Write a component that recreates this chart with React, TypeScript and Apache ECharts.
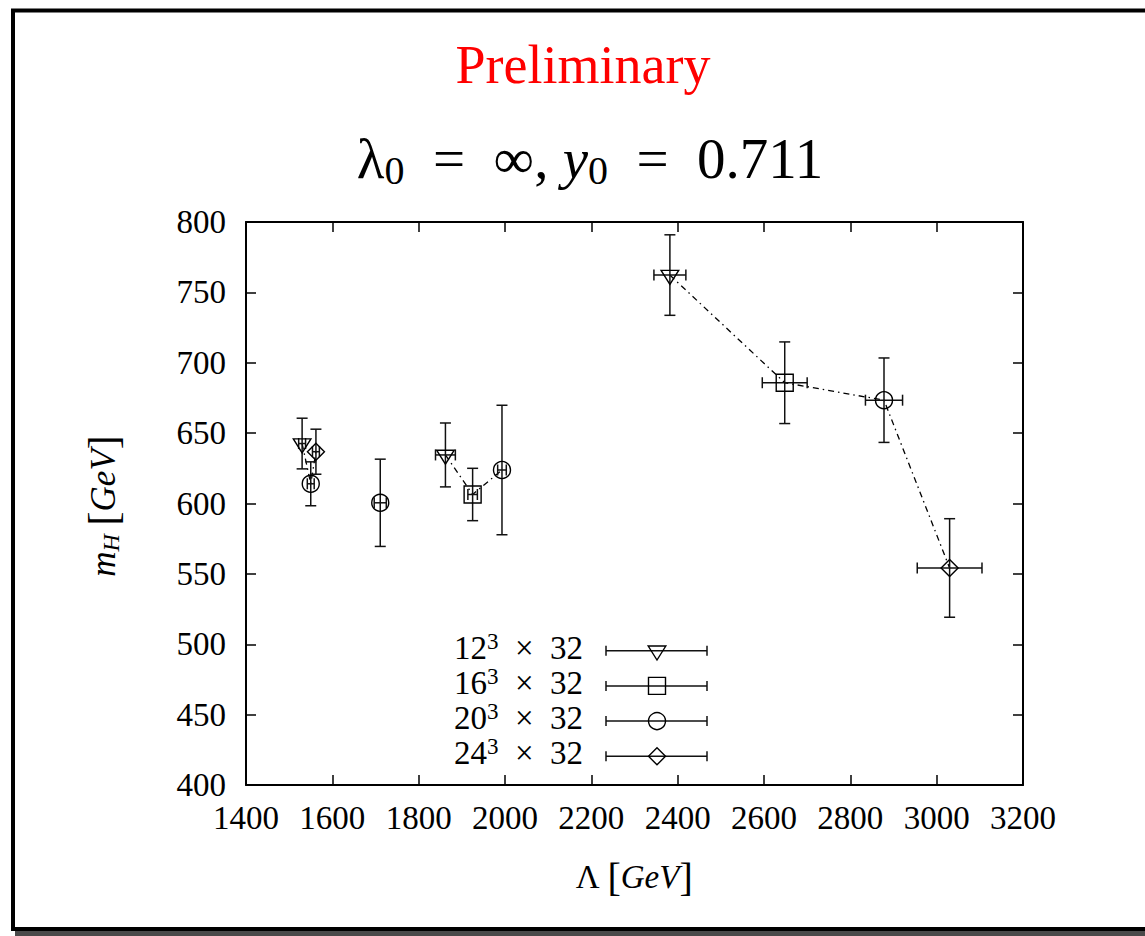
import React, { useEffect, useRef } from "react";
import * as echarts from "echarts";

// ---- axes ----
const X_MIN = 1400;
const X_MAX = 3200;
const X_STEP = 200;
const Y_MIN = 400;
const Y_MAX = 800;
const Y_STEP = 50;

// ---- series (lattice sizes) ----
const latticeBase = ["12", "16", "20", "24"];
const latticeTime = "32";
const markerShapes = ["triangleDown", "square", "circle", "diamond"];

const lambda12 = [1530, 1862, 2382];
const mH12 = [642.6, 634.5, 762.3];
const dLambda12 = [8, 23, 37];
const dmH12 = [18, 22.7, 28.6];

const lambda16 = [1925, 2648];
const mH16 = [606.4, 685.8];
const dLambda16 = [11, 52];
const dmH16 = [18.6, 29];

const lambda20 = [1550, 1711, 1993, 2878];
const mH20 = [614, 600.5, 623.8, 673.4];
const dLambda20 = [8, 14, 10, 43];
const dmH20 = [15.6, 31, 46, 30];

const lambda24 = [1562, 3030];
const mH24 = [636.8, 554.2];
const dLambda24 = [8, 75];
const dmH24 = [16, 35];

// connected groups: [series index, point index]
const groupA = [[0, 0], [2, 0], [3, 0]];
const groupB = [[0, 1], [1, 0], [2, 2]];
const groupC = [[0, 2], [1, 1], [2, 3], [3, 1]];

const FONT = "Liberation Serif, DejaVu Serif, serif";

const allSeries = [
  { lam: lambda12, m: mH12, dl: dLambda12, dm: dmH12 },
  { lam: lambda16, m: mH16, dl: dLambda16, dm: dmH16 },
  { lam: lambda20, m: mH20, dl: dLambda20, dm: dmH20 },
  { lam: lambda24, m: mH24, dl: dLambda24, dm: dmH24 },
];

const markerStyle = { stroke: "#000", fill: "none", lineWidth: 1.4 };
const barStyle = { stroke: "#111", lineWidth: 1.5 };

function marker(shape: string, cx: number, cy: number): any {
  if (shape === "triangleDown") {
    return {
      type: "polygon",
      shape: { points: [[cx - 8.8, cy - 4.7], [cx + 8.8, cy - 4.7], [cx, cy + 9.3]] },
      style: markerStyle,
    };
  }
  if (shape === "square") {
    return { type: "rect", shape: { x: cx - 8.5, y: cy - 8.5, width: 17, height: 17 }, style: markerStyle };
  }
  if (shape === "circle") {
    return { type: "circle", shape: { cx, cy, r: 8.5 }, style: markerStyle };
  }
  return {
    type: "polygon",
    shape: { points: [[cx, cy - 8.5], [cx + 8.5, cy], [cx, cy + 8.5], [cx - 8.5, cy]] },
    style: markerStyle,
  };
}

function seg(x1: number, y1: number, x2: number, y2: number): any {
  return { type: "line", shape: { x1, y1, x2, y2 }, style: barStyle };
}

function makeRender(shape: string) {
  return (_params: any, api: any) => {
    const x = api.value(0);
    const y = api.value(1);
    const dx = api.value(2);
    const dy = api.value(3);
    const c = api.coord([x, y]);
    const top = api.coord([x, y + dy]);
    const bot = api.coord([x, y - dy]);
    const l = api.coord([x - dx, y]);
    const r = api.coord([x + dx, y]);
    const cap = 5.5;
    return {
      type: "group",
      children: [
        seg(c[0], top[1], c[0], bot[1]),
        seg(c[0] - cap, top[1], c[0] + cap, top[1]),
        seg(c[0] - cap, bot[1], c[0] + cap, bot[1]),
        seg(l[0], c[1], r[0], c[1]),
        seg(l[0], c[1] - cap, l[0], c[1] + cap),
        seg(r[0], c[1] - cap, r[0], c[1] + cap),
        marker(shape, c[0], c[1]),
      ],
    };
  };
}

function groupData(g: number[][]) {
  return g.map(([s, i]) => [allSeries[s].lam[i], allSeries[s].m[i]]);
}

export default function App() {
  const ref = useRef<HTMLDivElement>(null);
  useEffect(() => {
    if (!ref.current) return;
    const chart = echarts.init(ref.current, undefined, { renderer: "svg" });

    const legendGraphics: any[] = [];
    latticeBase.forEach((b, i) => {
      const ly = 650.7 + i * 35.2;
      legendGraphics.push({
        type: "text",
        x: 583,
        y: ly - 3,
        style: {
          text: `{n|${b}}{p|3}{n|  ×  ${latticeTime}}`,
          align: "right",
          verticalAlign: "middle",
          fill: "#000",
          rich: {
            n: { fontFamily: FONT, fontSize: 33, lineHeight: 36, fill: "#000" },
            p: { fontFamily: FONT, fontSize: 23, lineHeight: 30, verticalAlign: "top", fill: "#000" },
          },
        },
      });
      legendGraphics.push(seg(606, ly, 707, ly));
      legendGraphics.push(seg(606, ly - 5, 606, ly + 5));
      legendGraphics.push(seg(707, ly - 5, 707, ly + 5));
      legendGraphics.push(marker(markerShapes[i], 657, ly));
    });

    const axisCommon = {
      type: "value",
      axisLine: { show: true, onZero: false, lineStyle: { color: "#000", width: 2 } },
      axisTick: { show: true, inside: true, length: 10, lineStyle: { color: "#000", width: 1.5 } },
      splitLine: { show: false },
    };

    const customSeries = allSeries.map((s, k) => ({
      type: "custom",
      name: `${latticeBase[k]}^3 x ${latticeTime}`,
      xAxisIndex: 0,
      yAxisIndex: 0,
      clip: false,
      z: 5,
      renderItem: makeRender(markerShapes[k]),
      data: s.lam.map((v, i) => [v, s.m[i], s.dl[i], s.dm[i]]),
    }));

    const lineSeries = [groupA, groupB, groupC].map((g) => ({
      type: "line",
      xAxisIndex: 0,
      yAxisIndex: 0,
      data: groupData(g),
      symbol: "none",
      silent: true,
      z: 2,
      lineStyle: { color: "#000", width: 1.3, type: [6, 4, 1.5, 4] },
    }));

    chart.setOption({
      animation: false,
      backgroundColor: "#fff",
      grid: { left: 246, top: 222, right: 122, bottom: 151, containLabel: false, outerBoundsMode: "none" },
      xAxis: [
        {
          ...axisCommon,
          position: "bottom",
          min: X_MIN,
          max: X_MAX,
          interval: X_STEP,
          axisLabel: {
            color: "#000",
            fontFamily: FONT,
            fontSize: 33,
            margin: 16,
            formatter: (v: number) => String(v),
          },
        },
        {
          ...axisCommon,
          position: "top",
          min: X_MIN,
          max: X_MAX,
          interval: X_STEP,
          axisLabel: { show: false },
        },
      ],
      yAxis: [
        {
          ...axisCommon,
          position: "left",
          min: Y_MIN,
          max: Y_MAX,
          interval: Y_STEP,
          axisLabel: {
            color: "#000",
            fontFamily: FONT,
            fontSize: 33,
            margin: 20,
            padding: [0, 0, 6, 0],
            formatter: (v: number) => String(v),
          },
        },
        {
          ...axisCommon,
          position: "right",
          min: Y_MIN,
          max: Y_MAX,
          interval: Y_STEP,
          axisLabel: { show: false },
        },
      ],
      series: [...lineSeries, ...customSeries],
      graphic: [
        {
          type: "rect",
          shape: { x: 13, y: 10.5, width: 1200, height: 918.5 },
          style: { fill: "none", stroke: "#000", lineWidth: 4 },
          silent: true,
        },
        {
          type: "rect",
          shape: { x: 15, y: 931, width: 1200, height: 5 },
          style: { fill: "#4a4a4a" },
          silent: true,
        },
        {
          type: "text",
          x: 583,
          y: 65,
          style: {
            text: "Preliminary",
            fontFamily: FONT,
            fontSize: 54,
            fill: "#ff0000",
            align: "center",
            verticalAlign: "middle",
          },
        },
        {
          type: "text",
          x: 590,
          y: 158,
          style: {
            text: "{n|λ}{s|0}{n|  =  ∞, }{i|y}{s|0}{n|  =  0.711}",
            align: "center",
            verticalAlign: "middle",
            rich: {
              n: { fontFamily: FONT, fontSize: 57, lineHeight: 64, fill: "#000" },
              i: { fontFamily: FONT, fontSize: 57, lineHeight: 64, fontStyle: "italic", fill: "#000" },
              s: { fontFamily: FONT, fontSize: 40, lineHeight: 41, verticalAlign: "bottom", fill: "#000" },
            },
          },
        },
        {
          type: "text",
          x: 634,
          y: 877,
          style: {
            text: "{n|Λ }{b|[}{i|GeV}{b|]}",
            align: "center",
            verticalAlign: "middle",
            rich: {
              n: { fontFamily: FONT, fontSize: 33, lineHeight: 40, fill: "#000" },
              b: { fontFamily: FONT, fontSize: 40, lineHeight: 40, fill: "#000" },
              i: { fontFamily: FONT, fontSize: 33, lineHeight: 40, fontStyle: "italic", fill: "#000" },
            },
          },
        },
        {
          type: "text",
          x: 103,
          y: 506,
          rotation: Math.PI / 2,
          style: {
            text: "{i|m}{s|H}{n| }{b|[}{i|GeV}{b|]}",
            align: "center",
            verticalAlign: "middle",
            rich: {
              n: { fontFamily: FONT, fontSize: 35, lineHeight: 40, fill: "#000" },
              b: { fontFamily: FONT, fontSize: 42, lineHeight: 40, fill: "#000" },
              i: { fontFamily: FONT, fontSize: 35, lineHeight: 40, fontStyle: "italic", fill: "#000" },
              s: { fontFamily: FONT, fontSize: 24, lineHeight: 26, fontStyle: "italic", verticalAlign: "bottom", fill: "#000" },
            },
          },
        },
        ...legendGraphics,
      ],
    });
    return () => chart.dispose();
  }, []);
  return (
    <div
      ref={ref}
      style={{ position: "fixed", left: 0, top: 0, width: 1145, height: 936, background: "#fff" }}
    />
  );
}
